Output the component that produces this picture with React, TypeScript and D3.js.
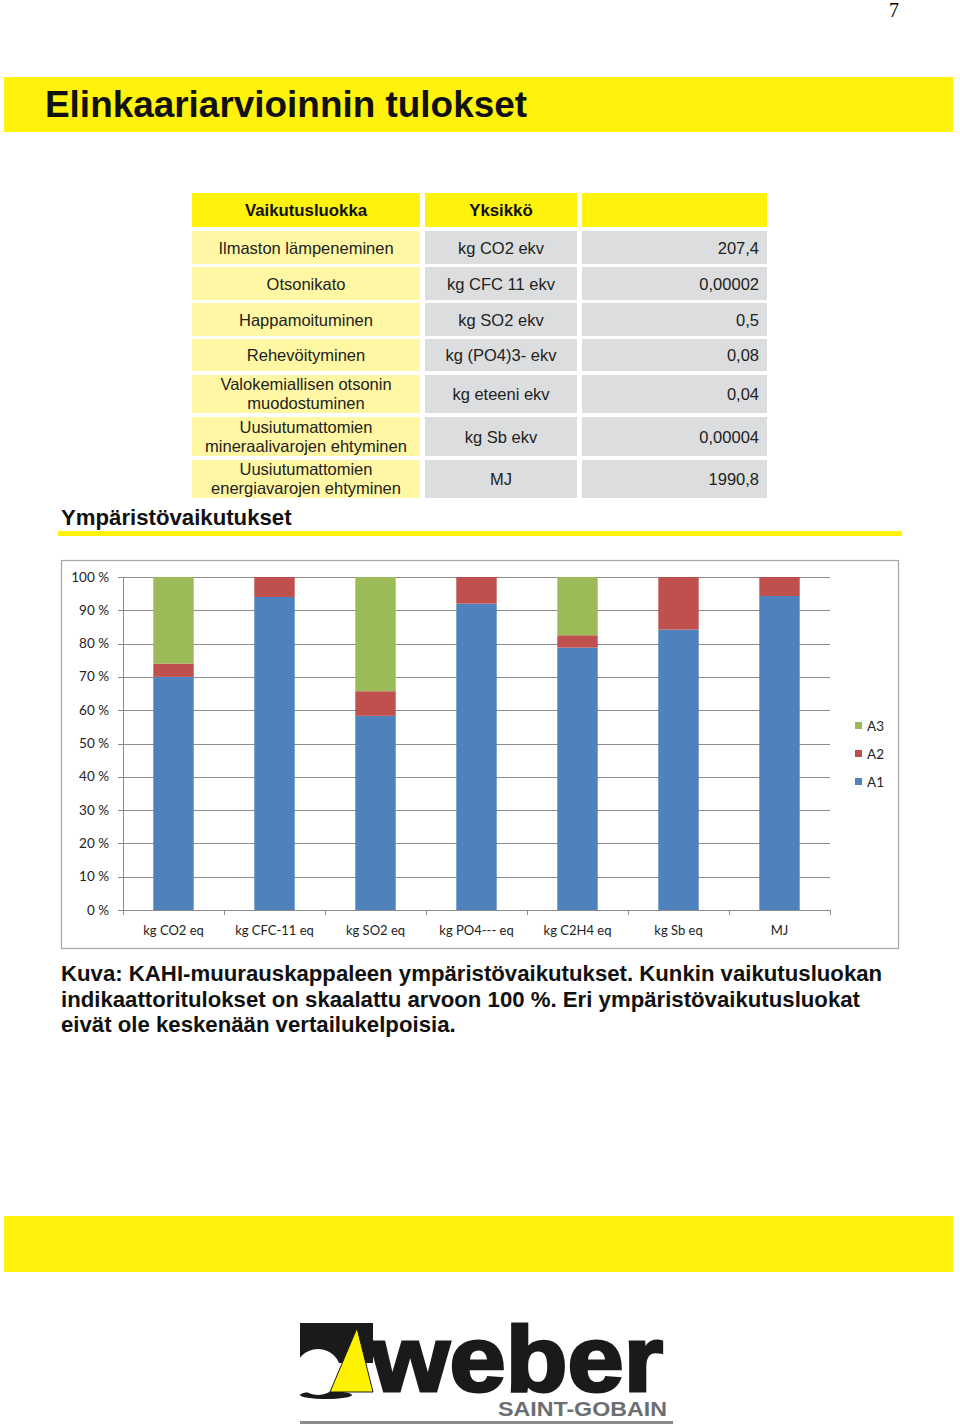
import React from "react";
import * as d3 from "d3";

const categories = ["kg CO2 eq", "kg CFC-11 eq", "kg SO2 eq", "kg PO4--- eq", "kg C2H4 eq", "kg Sb eq", "MJ"];
const seriesA1 = [70, 94, 58.3, 92, 78.8, 84.2, 94.3];
const seriesA2 = [4, 6, 7.4, 8, 3.7, 15.8, 5.7];
const seriesA3 = [26, 0, 34.3, 0, 17.5, 0, 0];
const seriesKeys = ["A1", "A2", "A3"];
const seriesColors: Record<string, string> = { A1: "#4F81BD", A2: "#C0504D", A3: "#9BBB59" };
const yTicks = [0, 10, 20, 30, 40, 50, 60, 70, 80, 90, 100];

const tableHeader = ["Vaikutusluokka", "Yksikkö", ""];
const impactClasses = [
  ["Ilmaston lämpeneminen"],
  ["Otsonikato"],
  ["Happamoituminen"],
  ["Rehevöityminen"],
  ["Valokemiallisen otsonin", "muodostuminen"],
  ["Uusiutumattomien", "mineraalivarojen ehtyminen"],
  ["Uusiutumattomien", "energiavarojen ehtyminen"],
];
const units = ["kg CO2 ekv", "kg CFC 11 ekv", "kg SO2 ekv", "kg (PO4)3- ekv", "kg eteeni ekv", "kg Sb ekv", "MJ"];
const tableValues = ["207,4", "0,00002", "0,5", "0,08", "0,04", "0,00004", "1990,8"];

const captionLines = [
  "Kuva: KAHI-muurauskappaleen ympäristövaikutukset. Kunkin vaikutusluokan",
  "indikaattoritulokset on skaalattu arvoon 100 %. Eri ympäristövaikutusluokat",
  "eivät ole keskenään vertailukelpoisia.",
];

const ARIAL = "'Liberation Sans', Arial, sans-serif";
const CHARTFONT = "Lato, 'Open Sans', sans-serif";

export default function App() {
  // table layout
  const colX = [192, 425, 582];
  const colW = [228, 152, 185];
  const headerY = 193, headerH = 34;
  const rowTops = [231, 267, 303, 339, 375, 417, 460];
  const rowHs = [33, 33, 33, 32, 38, 39, 38];

  // chart
  const plotL = 123, plotR = 830, plotT = 577, plotB = 910;
  const x = d3.scaleBand<string>().domain(categories).range([plotL, plotR]).paddingInner(0.6).paddingOuter(0.3);
  const y = d3.scaleLinear().domain([0, 100]).range([plotB, plotT]);
  const rows = categories.map((c, i) => ({ cat: c, A1: seriesA1[i], A2: seriesA2[i], A3: seriesA3[i] }));
  const stacked = d3.stack<any>().keys(seriesKeys)(rows);
  const step = x.step();
  const boundaries = d3.range(categories.length + 1).map((i) => plotL + i * step);

  return (
    <svg width={960} height={1425} style={{ position: "absolute", left: 0, top: 0, background: "#fff" }}>
      <rect x={0} y={0} width={960} height={1425} fill="#fff" />
      <text x={894} y={17} fontFamily="'Liberation Serif', serif" fontSize={20} textAnchor="middle">7</text>

      {/* title banner */}
      <rect x={4} y={77} width={949} height={55} fill="#FFF20D" />
      <text x={45} y={117} fontFamily={ARIAL} fontWeight="bold" fontSize={37} fill="#111"
        textLength={482} lengthAdjust="spacingAndGlyphs">Elinkaariarvioinnin tulokset</text>

      {/* table header */}
      {tableHeader.map((h, i) => (
        <g key={"h" + i}>
          <rect x={colX[i]} y={headerY} width={colW[i]} height={headerH} fill="#FFF20D" />
          {h && (
            <text x={colX[i] + colW[i] / 2} y={headerY + 23} textAnchor="middle" fontFamily={ARIAL}
              fontWeight="bold" fontSize={16.8} fill="#111">{h}</text>
          )}
        </g>
      ))}
      {impactClasses.map((lines, r) => {
        const top = rowTops[r], h = rowHs[r];
        const cy = top + h / 2;
        return (
          <g key={"r" + r}>
            <rect x={colX[0]} y={top} width={colW[0]} height={h} fill="#FFF7A3" />
            <rect x={colX[1]} y={top} width={colW[1]} height={h} fill="#DCDDDE" />
            <rect x={colX[2]} y={top} width={colW[2]} height={h} fill="#DCDDDE" />
            {lines.map((ln, k) => (
              <text key={k} x={colX[0] + colW[0] / 2} y={cy + 6 + (lines.length === 2 ? (k === 0 ? -10 : 9) : 0)}
                textAnchor="middle" fontFamily={ARIAL} fontSize={16.5} fill="#222">{ln}</text>
            ))}
            <text x={colX[1] + colW[1] / 2} y={cy + 6} textAnchor="middle" fontFamily={ARIAL} fontSize={16.5} fill="#222">{units[r]}</text>
            <text x={759} y={cy + 6} textAnchor="end" fontFamily={ARIAL} fontSize={16.5} fill="#222">{tableValues[r]}</text>
          </g>
        );
      })}

      <text x={61} y={525} fontFamily={ARIAL} fontWeight="bold" fontSize={22.2} fill="#111">Ympäristövaikutukset</text>
      <rect x={58} y={531} width={844} height={5} fill="#FFF20D" />

      {/* chart frame */}
      <rect x={61.5} y={560.5} width={837} height={388} fill="#fff" stroke="#A6A6A6" strokeWidth={1.2} />
      {yTicks.map((t) => (
        <g key={"y" + t}>
          <line x1={plotL - 5} x2={plotR} y1={Math.round(y(t)) + 0.5} y2={Math.round(y(t)) + 0.5} stroke="#8C8C8C" strokeWidth={1} />
          <text x={109} y={y(t) + 4.5} textAnchor="end" fontFamily={CHARTFONT} fontSize={13.5} fill="#222">{t} %</text>
        </g>
      ))}
      <line x1={plotL + 0.5} x2={plotL + 0.5} y1={plotT} y2={plotB} stroke="#8C8C8C" />
      {boundaries.map((bx, i) => (
        <line key={"b" + i} x1={Math.round(bx) + 0.5} x2={Math.round(bx) + 0.5} y1={plotB} y2={plotB + 5} stroke="#8C8C8C" />
      ))}
      {stacked.map((s) => (
        <g key={s.key} fill={seriesColors[s.key]}>
          {s.map((d, i) => {
            const h = y(d[0]) - y(d[1]);
            if (h <= 0) return null;
            return <rect key={i} x={x(categories[i])!} y={y(d[1])} width={x.bandwidth()} height={h} />;
          })}
        </g>
      ))}
      {categories.map((c) => (
        <text key={c} x={x(c)! + x.bandwidth() / 2} y={935} textAnchor="middle" fontFamily={CHARTFONT} fontSize={13} fill="#222">{c}</text>
      ))}
      {/* legend */}
      {["A3", "A2", "A1"].map((k, i) => (
        <g key={"l" + k}>
          <rect x={855} y={722 + i * 28} width={7} height={7} fill={seriesColors[k]} />
          <text x={867} y={730.5 + i * 28} fontFamily={CHARTFONT} fontSize={13.5} fill="#222">{k}</text>
        </g>
      ))}

      {/* caption */}
      {captionLines.map((ln, i) => (
        <text key={"c" + i} x={61} y={981 + i * 25.5} fontFamily={ARIAL} fontWeight="bold" fontSize={22.2} fill="#111">{ln}</text>
      ))}

      {/* bottom band */}
      <rect x={4} y={1216} width={949} height={56} fill="#FFF20D" />

      {/* logo */}
      <g>
        <rect x={300} y={1323} width={73} height={40} fill="#1A1A1A" />
        <ellipse cx={326} cy={1395} rx={26} ry={4} fill="#1A1A1A" />
        <circle cx={318} cy={1372} r={23} fill="#fff" />
        <polygon points="330,1392 357,1328 373,1392" fill="#FFF200" stroke="#1A1A1A" strokeWidth={1} />
        <text x={371} y={1391} fontFamily={ARIAL} fontWeight="bold" fontSize={92} fill="#1A1A1A" stroke="#1A1A1A" strokeWidth={3}
          textLength={292} lengthAdjust="spacingAndGlyphs">weber</text>
        <text x={498} y={1416} fontFamily={ARIAL} fontWeight="bold" fontSize={20} fill="#6D6E71"
          textLength={169} lengthAdjust="spacingAndGlyphs">SAINT-GOBAIN</text>
        <rect x={300} y={1421} width={373} height={3} fill="#8A8A8A" />
      </g>
    </svg>
  );
}
